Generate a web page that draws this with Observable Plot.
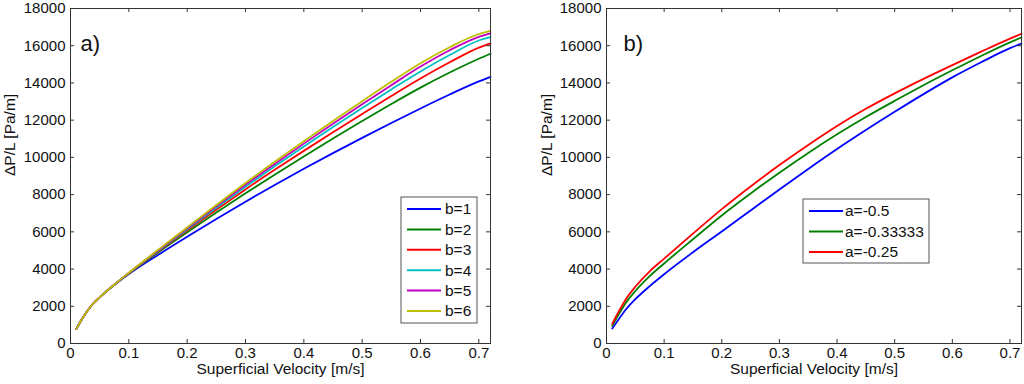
<!DOCTYPE html>
<html><head><meta charset="utf-8">
<script src="https://cdn.jsdelivr.net/npm/d3@7"></script>
<script src="https://cdn.jsdelivr.net/npm/@observablehq/plot@0.6"></script>
<style>
body{margin:0;background:#fff;}
#wrap{display:flex;width:1024px;height:384px;}
#wrap > div{width:512px;height:384px;}
svg{display:block}
</style></head><body><div id="wrap"><div id="pa"></div><div id="pb"></div></div>
<script>
// Panel a) — effect of b
const xA = [0.01, 0.02, 0.035, 0.05, 0.075, 0.1, 0.15, 0.2, 0.25, 0.3, 0.35, 0.4, 0.45, 0.5, 0.55, 0.6, 0.65, 0.7, 0.72];
const bNames = ["b=1", "b=2", "b=3", "b=4", "b=5", "b=6"];
const b1 = [780, 1330, 2000, 2480, 3140, 3730, 4760, 5740, 6690, 7620, 8520, 9390, 10230, 11050, 11850, 12630, 13380, 14080, 14330];
const b2 = [780, 1330, 2000, 2480, 3150, 3760, 4890, 5980, 7040, 8070, 9070, 10050, 11010, 11950, 12870, 13750, 14560, 15300, 15570];
const b3 = [780, 1330, 2000, 2480, 3160, 3770, 4940, 6080, 7190, 8280, 9330, 10350, 11350, 12330, 13300, 14240, 15110, 15900, 16130];
const b4 = [780, 1330, 2000, 2480, 3160, 3780, 4970, 6140, 7290, 8420, 9520, 10590, 11630, 12650, 13650, 14620, 15500, 16280, 16460];
const b5 = [780, 1330, 2000, 2480, 3160, 3790, 5000, 6190, 7370, 8530, 9650, 10740, 11810, 12860, 13880, 14880, 15760, 16480, 16670];
const b6 = [780, 1330, 2000, 2480, 3160, 3800, 5030, 6240, 7440, 8620, 9760, 10870, 11960, 13020, 14060, 15060, 15920, 16630, 16800];
const bColors = ["#0000ff", "#008000", "#ff0000", "#00bfbf", "#bf00bf", "#bfbf00"];

// Panel b) — effect of a
const xB = [0.01, 0.02, 0.035, 0.05, 0.075, 0.1, 0.15, 0.2, 0.25, 0.3, 0.35, 0.4, 0.45, 0.5, 0.55, 0.6, 0.65, 0.7, 0.72];
const aNames = ["a=-0.5", "a=-0.33333", "a=-0.25"];
const aHalf = [800, 1250, 1880, 2380, 3080, 3720, 4900, 6020, 7150, 8280, 9380, 10450, 11470, 12450, 13400, 14300, 15110, 15870, 16120];
const aThird = [950, 1500, 2250, 2820, 3620, 4300, 5600, 6880, 8060, 9180, 10240, 11240, 12170, 13040, 13880, 14680, 15450, 16180, 16440];
const aQuarter = [1050, 1650, 2450, 3050, 3880, 4560, 5900, 7220, 8440, 9590, 10670, 11690, 12610, 13440, 14220, 14960, 15680, 16380, 16640];
const aColors = ["#0000ff", "#008000", "#ff0000"];

const xTicks = [0, 0.1, 0.2, 0.3, 0.4, 0.5, 0.6, 0.7];
const yTicks = [0, 2000, 4000, 6000, 8000, 10000, 12000, 14000, 16000, 18000];
const xLabel = "Superficial Velocity [m/s]";
const yLabel = "\u0394P/L [Pa/m]";

function toRows(xs, names, vals) {
  return names.flatMap((n, i) => xs.map((x, j) => ({series: n, x, y: vals[i][j]})));
}

function legendMark(names, colors, box) {
  return () => {
    const g = d3.create("svg:g");
    g.append("rect").attr("x", box.x).attr("y", box.y).attr("width", box.w).attr("height", box.h)
      .attr("fill", "white").attr("stroke", "#555").attr("stroke-width", 1);
    names.forEach((n, i) => {
      const cy = box.y + box.pad + i * box.row;
      g.append("line").attr("x1", box.x + box.l0).attr("x2", box.x + box.l1)
        .attr("y1", cy).attr("y2", cy).attr("stroke", colors[i]).attr("stroke-width", 2);
      g.append("text").attr("x", box.x + box.tx).attr("y", cy).attr("dy", "0.35em")
        .attr("text-anchor", "start").attr("font-size", 15.5).attr("fill", "#111").text(n);
    });
    return g.node();
  };
}

function panel(rows, names, colors, xmax, m, tag, tagDx, yLabCx, box) {
  const fh = 384 - m.top - m.bottom;
  const fw = 512 - m.left - m.right;
  const tc = "#333";
  return Plot.plot({
    width: 512, height: 384,
    marginLeft: m.left, marginRight: m.right, marginTop: m.top, marginBottom: m.bottom,
    style: {fontFamily: "'Liberation Sans', Arial, sans-serif", fontSize: "15px", color: "#111", background: "white"},
    x: {domain: [0, xmax]},
    y: {domain: [0, 18000]},
    color: {domain: names, range: colors},
    marks: [
      Plot.line(rows, {x: "x", y: "y", stroke: "series", strokeWidth: 1.8, curve: "monotone-x"}),
      Plot.frame({stroke: tc}),
      Plot.ruleX(xTicks, {x: d => d, insetTop: fh - 4, stroke: tc}),
      Plot.ruleX(xTicks, {x: d => d, insetBottom: fh - 4, stroke: tc}),
      Plot.ruleY(yTicks, {y: d => d, insetRight: fw - 4, stroke: tc}),
      Plot.ruleY(yTicks, {y: d => d, insetLeft: fw - 4, stroke: tc}),
      Plot.axisX(xTicks, {tickSize: 0, tickPadding: 4, tickFormat: d => String(d), label: null}),
      Plot.axisY(yTicks, {tickSize: 0, tickPadding: 5, tickFormat: d => String(d), label: null}),
      Plot.text([xLabel], {frameAnchor: "bottom", dy: 30, text: d => d, fontSize: 15.5}),
      Plot.text([yLabel], {frameAnchor: "left", dx: -(m.left - yLabCx), rotate: -90, text: d => d, fontSize: 15.5}),
      Plot.text([tag], {frameAnchor: "top-left", dx: tagDx, dy: 27, text: d => d, fontSize: 22, textAnchor: "start"}),
      legendMark(names, colors, box)
    ]
  });
}

const rowsA = toRows(xA, bNames, [b1, b2, b3, b4, b5, b6]);
const rowsB = toRows(xB, aNames, [aHalf, aThird, aQuarter]);

document.getElementById("pa").append(
  panel(rowsA, bNames, bColors, 0.72, {left: 70, right: 22, top: 8, bottom: 41}, "a)", 10, 10,
    {x: 401, y: 197, w: 76, h: 126, pad: 12, row: 20.4, l0: 6, l1: 40, tx: 44})
);
document.getElementById("pb").append(
  panel(rowsB, aNames, aColors, 0.72, {left: 94, right: 3, top: 8, bottom: 41}, "b)", 17, 35,
    {x: 291, y: 199, w: 126, h: 64, pad: 12, row: 20.5, l0: 6, l1: 40, tx: 42})
);
</script></body></html>
